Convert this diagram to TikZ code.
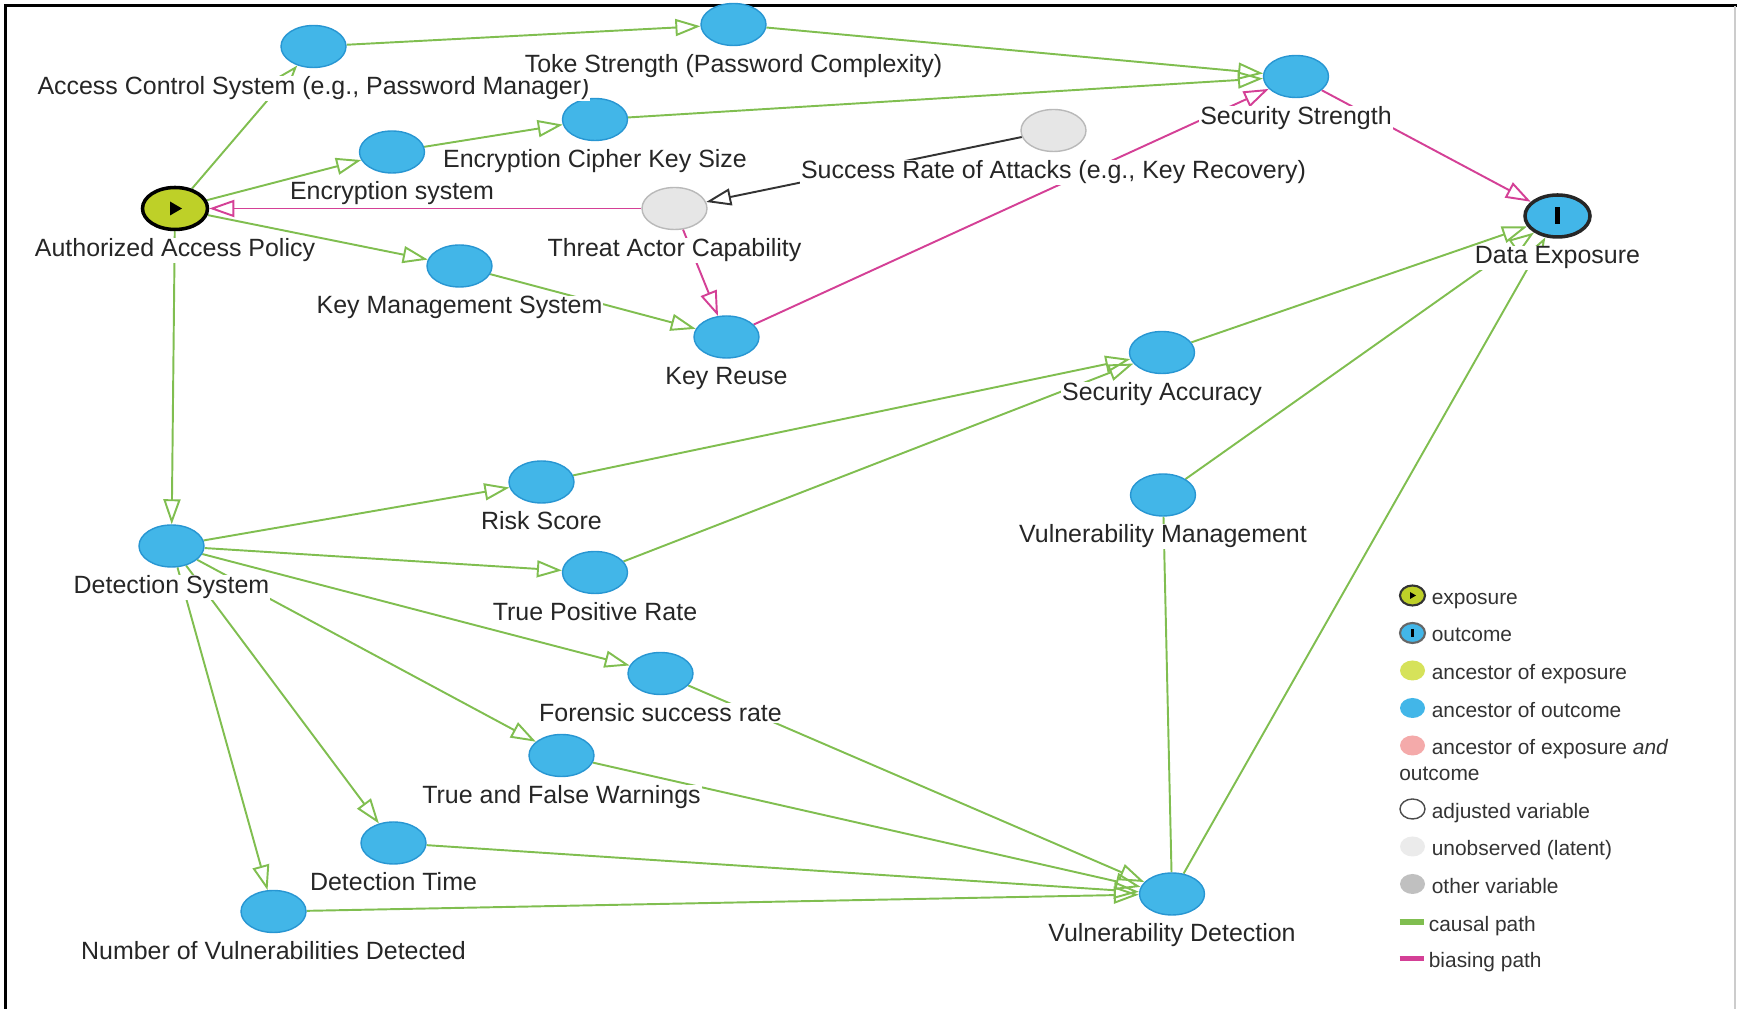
\documentclass[tikz,border=0pt]{standalone}
\usepackage{fontspec}
\setmainfont{Liberation Sans}
\usetikzlibrary{arrows.meta}
\usetikzlibrary{shapes}
\usetikzlibrary{backgrounds}
\definecolor{causal}{RGB}{128,190,80}
\definecolor{biasing}{RGB}{212,64,150}
\definecolor{ancout}{RGB}{66,182,232}
\definecolor{ancoutline}{RGB}{40,150,210}
\definecolor{expo}{RGB}{190,208,40}
\definecolor{ancexp}{RGB}{214,226,90}
\definecolor{ancboth}{RGB}{244,170,170}
\definecolor{latent}{RGB}{230,230,230}
\definecolor{latentline}{RGB}{185,185,185}
\definecolor{othervar}{RGB}{192,192,192}
\tikzset{
  var/.style={ellipse, minimum width=1.3cm, minimum height=0.84cm, inner sep=0pt},
  anc/.style={var, fill=ancout, draw=ancoutline, line width=0.8pt},
  lat/.style={var, fill=latent, draw=latentline, line width=0.8pt},
  expnode/.style={var, fill=expo, draw=black, line width=2pt},
  outnode/.style={var, fill=ancout, draw=black!85, line width=2pt},
  lbl/.style={font=\fontsize{14.2}{17}\selectfont, text=black!85, fill=white, inner sep=0.5pt, anchor=base},
  legtext/.style={font=\fontsize{11.9}{14}\selectfont, text=black!80, inner sep=0pt, anchor=base west},
  legicon/.style={ellipse, minimum width=0.5cm, minimum height=0.4cm, inner sep=0pt},
  tip/.style={-{Triangle[open, length=0.5cm, width=0.34cm]}},
  causalpath/.style={draw=causal, line width=1.1pt, tip},
  biaspath/.style={draw=biasing, line width=1.1pt, tip},
  plainpath/.style={draw=black!80, line width=1.1pt, tip}
}
\newcommand{\varlabel}[2]{\node[lbl] (#1-l) at ([yshift=-0.96cm]#1.center) {#2};}

\begin{document}
\begin{tikzpicture}
  \useasboundingbox (0,0) rectangle (34.74,20.18);
  % frame
  \draw[line width=0.06cm] (0.12,0) -- (0.12,20.06) -- (34.74,20.06);
  \draw[black!20, line width=0.03cm] (34.70,20.06) -- (34.70,0);

  % variables
  \node[expnode] (aap) at (3.50,16.01) {};
  \node[anc] (acs) at (6.27,19.25) {};
  \node[anc] (ts) at (14.67,19.69) {};
  \node[anc] (ss) at (25.92,18.65) {};
  \node[anc] (ecks) at (11.90,17.79) {};
  \node[anc] (es) at (7.84,17.14) {};
  \node[lat] (sra) at (21.07,17.57) {};
  \node[lat] (tac) at (13.49,16.01) {};
  \node[outnode] (de) at (31.15,15.86) {};
  \node[anc] (kms) at (9.19,14.86) {};
  \node[anc] (kr) at (14.53,13.44) {};
  \node[anc] (sa) at (23.24,13.13) {};
  \node[anc] (rs) at (10.83,10.54) {};
  \node[anc] (vm) at (23.26,10.28) {};
  \node[anc] (ds) at (3.43,9.26) {};
  \node[anc] (tpr) at (11.90,8.73) {};
  \node[anc] (fsr) at (13.21,6.71) {};
  \node[anc] (tfw) at (11.23,5.07) {};
  \node[anc] (dt) at (7.87,3.32) {};
  \node[anc] (nvd) at (5.47,1.95) {};
  \node[anc] (vd) at (23.44,2.30) {};
  \fill[black] ([shift={(-0.1,0.14)}]aap.center) -- ++(0.24,-0.14) -- ++(-0.24,-0.14) -- cycle;
  \fill[black] ([shift={(-0.05,-0.17)}]de.center) rectangle ([shift={(0.05,0.17)}]de.center);

  \varlabel{aap}{Authorized Access Policy}
  \varlabel{acs}{Access Control System (e.g., Password Manager)}
  \varlabel{ts}{Toke Strength (Password Complexity)}
  \varlabel{ss}{Security Strength}
  \varlabel{ecks}{Encryption Cipher Key Size}
  \varlabel{es}{Encryption system}
  \varlabel{sra}{Success Rate of Attacks (e.g., Key Recovery)}
  \varlabel{tac}{Threat Actor Capability}
  \varlabel{de}{Data Exposure}
  \varlabel{kms}{Key Management System}
  \varlabel{kr}{Key Reuse}
  \varlabel{sa}{Security Accuracy}
  \varlabel{rs}{Risk Score}
  \varlabel{vm}{Vulnerability Management}
  \varlabel{ds}{Detection System}
  \varlabel{tpr}{True Positive Rate}
  \varlabel{fsr}{Forensic success rate}
  \varlabel{tfw}{True and False Warnings}
  \varlabel{dt}{Detection Time}
  \varlabel{nvd}{Number of Vulnerabilities Detected}
  \varlabel{vd}{Vulnerability Detection}

  % paths
  \begin{scope}[on background layer]
    \draw[causalpath] (aap) -- (acs);
    \draw[causalpath] (aap) -- (es);
    \draw[causalpath] (aap) -- (kms);
    \draw[causalpath] (aap) -- (ds);
    \draw[causalpath] (acs) -- (ts);
    \draw[causalpath] (ts) -- (ss);
    \draw[causalpath] (es) -- (ecks);
    \draw[causalpath] (ecks) -- (ss);
    \draw[causalpath] (kms) -- (kr);
    \draw[causalpath] (ds) -- (rs);
    \draw[causalpath] (ds) -- (tpr);
    \draw[causalpath] (ds) -- (fsr);
    \draw[causalpath] (ds) -- (tfw);
    \draw[causalpath] (ds) -- (dt);
    \draw[causalpath] (ds) -- (nvd);
    \draw[causalpath] (rs) -- (sa);
    \draw[causalpath] (tpr) -- (sa);
    \draw[causalpath] (fsr) -- (vd);
    \draw[causalpath] (tfw) -- (vd);
    \draw[causalpath] (dt) -- (vd);
    \draw[causalpath] (nvd) -- (vd);
    \draw[causalpath, -] (vm) -- (vd);
    \draw[causalpath] (sa) -- (de);
    \draw[causalpath] (vm) -- (de);
    \draw[causalpath] (vd) -- (de);
    \draw[biaspath] (tac) -- (aap);
    \draw[biaspath] (tac) -- (kr);
    \draw[biaspath] (kr) -- (ss);
    \draw[biaspath] (ss) -- (de);
    \draw[plainpath] (sra) -- (tac);
  \end{scope}

  % legend
  \node[legicon, fill=expo, draw=black!80, line width=1.2pt] (lg-exp) at (28.25,8.27) {};
  \fill[black] ([shift={(-0.05,0.07)}]lg-exp.center) -- ++(0.12,-0.07) -- ++(-0.12,-0.07) -- cycle;
  \node[legicon, fill=ancout, draw=black!60, line width=1.2pt] (lg-out) at (28.25,7.52) {};
  \fill[black] ([shift={(-0.025,-0.08)}]lg-out.center) rectangle ([shift={(0.025,0.08)}]lg-out.center);
  \node[legicon, fill=ancexp] (lg-ae) at (28.25,6.77) {};
  \node[legicon, fill=ancout] (lg-ao) at (28.25,6.02) {};
  \node[legicon, fill=ancboth] (lg-ab) at (28.25,5.27) {};
  \node[legicon, fill=white, draw=black!70, line width=0.8pt] (lg-adj) at (28.25,4.00) {};
  \node[legicon, fill=latent!80] (lg-lat) at (28.25,3.25) {};
  \node[legicon, fill=othervar] (lg-oth) at (28.25,2.50) {};
  \draw[causal, line width=3pt] (27.99,1.74) -- (28.47,1.74);
  \draw[biasing, line width=3pt] (27.99,1.01) -- (28.47,1.01);

  \node[legtext] (lt-exp) at (28.63,8.09) {exposure};
  \node[legtext] (lt-out) at (28.63,7.34) {outcome};
  \node[legtext] (lt-ae) at (28.63,6.58) {ancestor of exposure};
  \node[legtext] (lt-ao) at (28.63,5.83) {ancestor of outcome};
  \node[legtext] (lt-ab) at (28.63,5.08) {ancestor of exposure \textit{and}};
  \node[legtext] (lt-ab2) at (27.98,4.56) {outcome};
  \node[legtext] (lt-adj) at (28.63,3.81) {adjusted variable};
  \node[legtext] (lt-lat) at (28.63,3.06) {unobserved (latent)};
  \node[legtext] (lt-oth) at (28.63,2.31) {other variable};
  \node[legtext] (lt-cau) at (28.57,1.55) {causal path};
  \node[legtext] (lt-bia) at (28.57,0.82) {biasing path};
\end{tikzpicture}
\end{document}
